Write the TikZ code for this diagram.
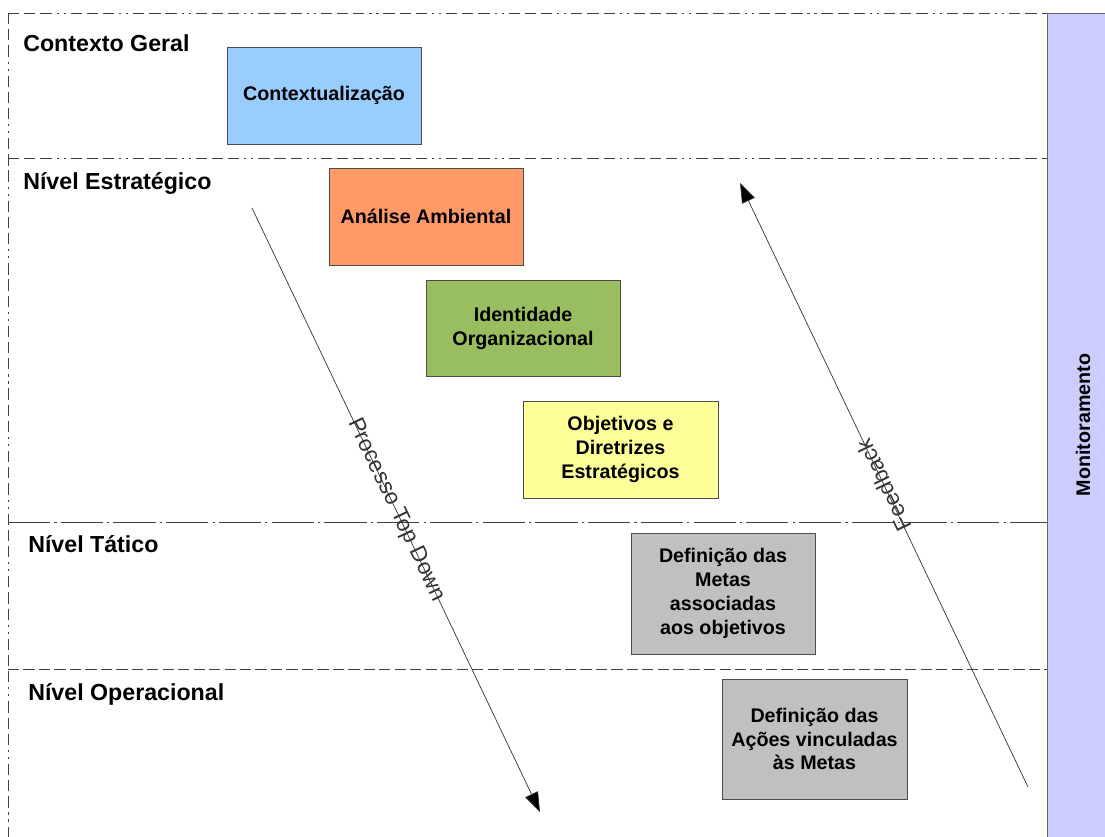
\documentclass[tikz,border=0pt]{standalone}
\usepackage{fontspec}
\setmainfont{Liberation Sans}
\usetikzlibrary{arrows.meta, positioning}

\definecolor{ctxblue}{RGB}{153,204,255}
\definecolor{anaorange}{RGB}{255,153,102}
\definecolor{idegreen}{RGB}{153,190,95}
\definecolor{objyellow}{RGB}{255,255,153}
\definecolor{metgray}{RGB}{192,192,192}
\definecolor{monlilac}{RGB}{204,204,255}

\begin{document}
\begin{tikzpicture}[
    x=0.025cm, y=-0.025cm,
    box/.style={rectangle, draw=black!70, fill=#1, align=center, inner sep=2pt,
        font=\fontsize{14}{17}\selectfont\bfseries},
    level/.style={anchor=west, inner sep=0pt, font=\fontsize{16.5}{19}\selectfont\bfseries},
    frameline/.style={black!75, line width=0.6pt, dash pattern=on 8pt off 3.5pt on 8pt off 3.5pt on 8pt off 3.5pt on 1.5pt off 3.5pt on 1.5pt off 3.5pt},
    longdash/.style={black!75, line width=0.6pt, dash pattern=on 30pt off 3pt on 1.5pt off 3pt},
    shortdash/.style={black!75, line width=0.6pt, dash pattern=on 8pt off 3pt},
    arrow/.style={-{Triangle[length=14pt, width=10pt, fill=black]}, black!80, line width=0.5pt},
    arrowlabel/.style={font=\fontsize{16}{19}\selectfont, sloped, inner sep=0pt}
    ]
\useasboundingbox (0,0) rectangle (1105,836);

% lanes
\draw[frameline] (8,13) -- (1047,13);
\draw[frameline] (8,13) -- (8,840);
\draw[frameline] (8,158) -- (1047,158);
\draw[longdash] (8,522) -- (1047,522);
\draw[shortdash] (8,669) -- (1047,669);

\node[rectangle, draw=black!60, line width=0.7pt, fill=monlilac, minimum width={63*0.025cm}, minimum height={830*0.025cm},
    anchor=north west] (mon) at (1047,13) {};
\node[rotate=90, font=\fontsize{14}{17}\selectfont\bfseries] (monlabel) at (1083,425) {Monitoramento};

\node[level] (geral) at (23,43) {Contexto Geral};
\node[level] (estrat) at (23,183) {Nível Estratégico};
\node[level] (tatico) at (28,544) {Nível Tático};
\node[level] (operac) at (28,694) {Nível Operacional};

% steps
\node[box=ctxblue, minimum width={194*0.025cm}, minimum height={97*0.025cm}] (ctx) at (324,95.5) {Contextualização};
\node[box=anaorange, minimum width={194*0.025cm}, minimum height={97*0.025cm}] (ana) at (426,216.5) {Análise Ambiental};
\node[box=idegreen, minimum width={194*0.025cm}, minimum height={96*0.025cm}] (ide) at (523,328) {Identidade\\Organizacional};
\node[box=objyellow, minimum width={195*0.025cm}, minimum height={97*0.025cm}] (obj) at (620.5,449.5) {Objetivos e\\Diretrizes\\Estratégicos};
\node[box=metgray, minimum width={184*0.025cm}, minimum height={121*0.025cm}] (met) at (723,593.5) {Definição das\\Metas\\associadas\\aos objetivos};
\node[box=metgray, minimum width={185*0.025cm}, minimum height={120*0.025cm}] (aco) at (814.5,739) {Definição das\\Ações vinculadas\\às Metas};

% flows
\coordinate (td1) at (252,208);
\coordinate (td2) at (540,812);
\coordinate (fb1) at (1028,787);
\coordinate (fb2) at (740,183);

\draw[arrow] (td1) -- node[arrowlabel] (tdlabel) {Processo Top Down} (td2);
\draw[arrow] (fb1) -- node[arrowlabel, allow upside down] (fblabel) {Feedback} (fb2);
\end{tikzpicture}
\end{document}
